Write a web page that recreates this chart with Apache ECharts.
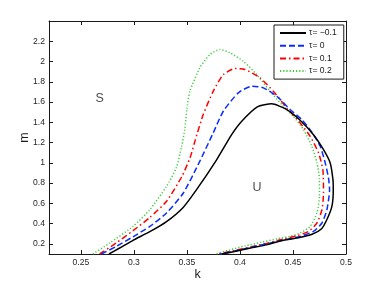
<!DOCTYPE html>
<html><head><meta charset="utf-8">
<script src="https://cdn.jsdelivr.net/npm/echarts@6/dist/echarts.min.js"></script>
<style>html,body{margin:0;padding:0;background:#fff}#c{width:382px;height:287px}</style>
</head><body><div id="c"></div>
<script>
// tick labels
const xTicks = [0.25, 0.3, 0.35, 0.4, 0.45, 0.5];
const yTicks = [0.2, 0.4, 0.6, 0.8, 1, 1.2, 1.4, 1.6, 1.8, 2, 2.2];
// series names
const seriesNames = ['τ= −0.1', 'τ= 0', 'τ= 0.1', 'τ= 0.2'];
// tau = -0.1
const k1 = [0.2765,0.2866,0.2992,0.315,0.3308,0.3465,0.3591,0.378,0.3922,0.4017,0.4164,0.4300,0.4442,0.4560,0.4693,0.4788,0.4851,0.4877,0.4880,0.4867,0.4820,0.4770,0.4680,0.4550,0.4380,0.4250,0.4100,0.3950,0.3830];
const m1 = [0.1,0.159,0.235,0.32,0.42,0.56,0.735,1.03,1.278,1.41,1.552,1.582,1.525,1.427,1.278,1.13,0.999,0.834,0.735,0.57,0.44,0.35,0.295,0.26,0.228,0.19,0.16,0.125,0.1];
// tau = 0
const k2 = [0.2693,0.2835,0.2992,0.315,0.3308,0.3465,0.3606,0.3748,0.3843,0.3985,0.4111,0.4221,0.4348,0.4473,0.4580,0.4680,0.4757,0.4804,0.4835,0.4845,0.4820,0.4773,0.4693,0.4568,0.4400,0.4250,0.4100,0.3950,0.3810];
const m2 = [0.1,0.175,0.27,0.372,0.505,0.70,0.982,1.295,1.509,1.691,1.756,1.740,1.657,1.526,1.43,1.30,1.163,0.999,0.851,0.735,0.537,0.406,0.323,0.274,0.235,0.20,0.165,0.13,0.1];
// tau = 0.1
const k3 = [0.2677,0.2835,0.2992,0.315,0.3308,0.3450,0.3530,0.3580,0.3654,0.3748,0.3843,0.3953,0.4048,0.4190,0.4315,0.4442,0.4568,0.4662,0.4741,0.4782,0.4788,0.4773,0.4726,0.4646,0.4536,0.4400,0.4250,0.4100,0.3950,0.3790];
const m3 = [0.1,0.21,0.33,0.46,0.62,0.86,1.05,1.229,1.476,1.706,1.871,1.931,1.921,1.839,1.706,1.542,1.394,1.262,1.098,0.933,0.702,0.537,0.406,0.323,0.28,0.245,0.205,0.17,0.135,0.1];
// tau = 0.2
const k4 = [0.2614,0.2772,0.2992,0.315,0.3308,0.3400,0.3450,0.3480,0.3500,0.3528,0.3622,0.3717,0.3811,0.3906,0.4032,0.4159,0.4284,0.4400,0.4504,0.4599,0.4678,0.4726,0.4750,0.4750,0.4726,0.4662,0.4568,0.4473,0.4350,0.4200,0.4050,0.3900,0.3770];
const m4 = [0.1,0.208,0.372,0.537,0.768,0.95,1.16,1.33,1.53,1.706,1.938,2.069,2.118,2.086,2.003,1.871,1.706,1.57,1.459,1.328,1.163,0.999,0.834,0.669,0.505,0.372,0.307,0.274,0.25,0.215,0.18,0.14,0.1];
// region annotations
const annoText = ['S', 'U'];
const annoK = [0.2677, 0.4161];
const annoM = [1.634, 0.755];

const FONT = 'Liberation Sans, Arial, Helvetica, sans-serif';
const zip = (a, b) => a.map((v, i) => [v, b[i]]);
const colors = ['#000000', '#0a2cff', '#ff0000', '#3fcc3f'];
const dashes = ['solid', [6, 3], [6, 3, 1.5, 3], [1.2, 2]];
const ks = [k1, k2, k3, k4], ms = [m1, m2, m3, m4];

const axisCommon = {
  type: 'value',
  axisLine: { show: true, lineStyle: { color: '#1a1a1a', width: 1 } },
  splitLine: { show: false },
  axisTick: { inside: true, length: 4, lineStyle: { color: '#1a1a1a' } }
};

const chart = echarts.init(document.getElementById('c'), null, { renderer: 'canvas' });
chart.setOption({
  animation: false,
  backgroundColor: '#fff',
  grid: { left: 49, right: 36, top: 21, bottom: 33 },
  xAxis: [
    Object.assign({}, axisCommon, {
      min: 0.22, max: 0.5, position: 'bottom',
      name: 'k', nameLocation: 'middle', nameGap: 14, nameMoveOverlap: false,
      nameTextStyle: { fontFamily: FONT, fontSize: 12.5, color: '#1a1a1a' },
      axisTick: Object.assign({}, axisCommon.axisTick, { customValues: xTicks }),
      axisLabel: { customValues: xTicks, margin: 4, fontFamily: FONT, fontSize: 8.6, color: '#262626', formatter: v => String(v) }
    }),
    Object.assign({}, axisCommon, {
      min: 0.22, max: 0.5, position: 'top',
      axisTick: Object.assign({}, axisCommon.axisTick, { customValues: xTicks }),
      axisLabel: { show: false }
    })
  ],
  yAxis: [
    Object.assign({}, axisCommon, {
      min: 0.1, max: 2.4, position: 'left',
      name: 'm', nameLocation: 'middle', nameGap: 18, nameRotate: 90, nameMoveOverlap: false,
      nameTextStyle: { fontFamily: FONT, fontSize: 12.5, color: '#1a1a1a' },
      axisTick: Object.assign({}, axisCommon.axisTick, { customValues: yTicks }),
      axisLabel: { customValues: yTicks, margin: 4, fontFamily: FONT, fontSize: 8.6, color: '#262626', formatter: v => String(v) }
    }),
    Object.assign({}, axisCommon, {
      min: 0.1, max: 2.4, position: 'right',
      axisTick: Object.assign({}, axisCommon.axisTick, { customValues: yTicks }),
      axisLabel: { show: false }
    })
  ],
  legend: {
    data: seriesNames,
    orient: 'vertical',
    left: 274, top: 25,
    padding: [3, 7, 3, 5],
    itemGap: 2.7,
    itemWidth: 26, itemHeight: 10,
    backgroundColor: '#fff',
    borderColor: '#1a1a1a', borderWidth: 1,
    borderRadius: 0,
    itemStyle: { color: 'rgba(0,0,0,0)', borderColor: 'rgba(0,0,0,0)', borderWidth: 0 },
    textStyle: { fontFamily: FONT, fontSize: 8.6, color: '#1a1a1a', lineHeight: 10, padding: [0, 0, 0, -2] }
  },
  series: ks.map((k, i) => ({
    name: seriesNames[i],
    type: 'line',
    xAxisIndex: 0, yAxisIndex: 0,
    data: zip(k, ms[i]),
    symbol: 'none',
    smooth: 0.2,
    clip: true,
    lineStyle: { color: colors[i], width: 1.5, type: dashes[i] },
    itemStyle: { color: colors[i] },
    z: 10 - i
  })).concat([{
    name: 'anno',
    type: 'scatter',
    silent: true,
    symbolSize: 0,
    data: annoText.map((t, i) => ({ name: t, value: [annoK[i], annoM[i]] })),
    label: { show: true, position: 'inside', formatter: p => p.name, fontFamily: FONT, fontSize: 12.5, color: '#1a1a1a' }
  }])
});
</script></body></html>
